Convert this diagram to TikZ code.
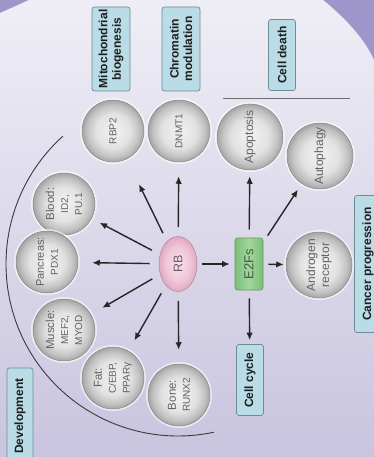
\documentclass[tikz,border=0pt]{standalone}
\usepackage{fontspec}
\setmainfont{Liberation Sans}
\usetikzlibrary{arrows.meta,shapes.geometric}
\definecolor{bgpurple}{HTML}{9E96CA}
\definecolor{bgtop}{HTML}{EFEEF6}
\definecolor{bgmid}{HTML}{E6E4F1}
\definecolor{bgbot}{HTML}{C9C4DF}
\definecolor{lblfill}{HTML}{B9DCE6}
\definecolor{lbldraw}{HTML}{6C8C98}
\definecolor{ballborder}{HTML}{8A8A8A}
\definecolor{balltext}{HTML}{626262}
\definecolor{ballA}{HTML}{F2F2F2}
\definecolor{ballB}{HTML}{E2E2E2}
\definecolor{ballC}{HTML}{C2C2C2}
\definecolor{ballD}{HTML}{A4A4A4}
\definecolor{pinkA}{HTML}{F8E2EA}
\definecolor{pinkB}{HTML}{EFC6D6}
\definecolor{pinkC}{HTML}{E2A9C0}
\definecolor{rbdraw}{HTML}{B58A9C}
\definecolor{rbtext}{HTML}{6E5A64}
\definecolor{greenA}{HTML}{A3D69E}
\definecolor{greenB}{HTML}{7DBE78}
\definecolor{e2fdraw}{HTML}{5F9A5C}
\definecolor{e2ftext}{HTML}{3F5F3F}
\definecolor{arrowcol}{HTML}{262626}
\definecolor{arccol}{HTML}{3A3A3A}
\definecolor{hlinecol}{HTML}{6E6E6E}
\pgfdeclareradialshading{ballgray}{\pgfpoint{0bp}{0bp}}{color(0bp)=(ballA); color(14bp)=(ballB); color(21bp)=(ballC); color(25bp)=(ballD); color(50bp)=(ballD)}
\pgfdeclareradialshading{pinkball}{\pgfpoint{0bp}{0bp}}{color(0bp)=(pinkA); color(16bp)=(pinkB); color(25bp)=(pinkC); color(50bp)=(pinkC)}
\newcommand\genefont{\fontsize{10}{11.5}\selectfont}
\begin{document}
\begin{tikzpicture}[x=1pt,y=1pt,
  lbl/.style={rectangle, rounded corners=2.5pt, draw=lbldraw, fill=lblfill, line width=0.7pt,
    font=\bfseries\fontsize{12}{13.5}\selectfont, text=black!88, rotate=90, align=center, inner sep=1pt},
  ball/.style={circle, shade, shading=ballgray, draw=ballborder, line width=0.5pt,
    preaction={draw=white, line width=4pt, opacity=0.6},
    minimum size=62pt, inner sep=0pt, rotate=90, align=center, text=balltext,
    font=\fontsize{11.5}{14}\selectfont},
  arr/.style={-{Latex[length=7.5pt,width=6.5pt]}, line width=1.4pt, draw=arrowcol}]
\useasboundingbox (0,0) rectangle (374,-457);
\begin{scope}
\clip (0,0) rectangle (374,-457);
% background
\fill[bgpurple] (0,0) rectangle (374,-457);
\shade[top color=bgtop, middle color=bgmid, bottom color=bgbot]
  (0,-13) -- (29,0) -- (323,0) .. controls (345,-18) and (364,-38) .. (374,-60)
  -- (374,-457) -- (0,-457) -- cycle;
% labels
\node[lbl, minimum width=84pt, minimum height=38pt] (mito) at (111,-49) {Mitochondrial\\biogenesis};
\node[lbl, minimum width=84pt, minimum height=38pt] (chrom) at (181,-49) {Chromatin\\modulation};
\node[lbl, minimum width=71pt, minimum height=27pt] (death) at (282,-55) {Cell death};
\node[lbl, minimum width=71pt, minimum height=27pt] (cycle) at (250,-380) {Cell cycle};
\node[lbl, minimum width=137pt, minimum height=27pt] (cancer) at (368,-264) {Cancer progression};
\node[lbl, minimum width=96pt, minimum height=26pt] (dev) at (20,-416) {Development};
% centre nodes
\node[ellipse, minimum width=55pt, minimum height=38pt, rotate=90, shade, shading=pinkball,
  draw=rbdraw, line width=0.6pt, text=rbtext, font=\fontsize{12.5}{14}\selectfont] (RB) at (178,-264) {RB};
\node[rectangle, rounded corners=2.5pt, minimum width=52pt, minimum height=28pt, rotate=90,
  left color=greenB, right color=greenB, middle color=greenA, draw=e2fdraw, line width=0.6pt,
  text=e2ftext, font=\fontsize{13}{14}\selectfont] (E2F) at (249,-264) {E2Fs};
% balls
\node[ball] (rbp2) at (113,-131) {\genefont RBP2};
\node[ball] (dnmt1) at (179,-131) {\genefont DNMT1};
\node[ball] (blood) at (64,-204) {Blood:\\\genefont ID2,\\\genefont PU.1};
\node[ball, font=\fontsize{11}{14}\selectfont] (panc) at (47,-262) {Pancreas:\\\genefont PDX1};
\node[ball] (muscle) at (64,-330) {Muscle:\\\genefont MEF2,\\\genefont MYOD};
\node[ball] (fat) at (113,-378) {Fat:\\\genefont C/EBP,\\\genefont PPARγ};
\node[ball] (bone) at (179,-395) {Bone:\\\genefont RUNX2};
\node[ball, minimum size=66pt, font=\fontsize{12}{14}\selectfont] (apop) at (250,-137) {Apoptosis};
\node[ball, minimum size=66pt, font=\fontsize{12}{14}\selectfont] (autoph) at (320,-156) {Autophagy};
\node[ball, minimum size=66pt, font=\fontsize{12}{14}\selectfont] (andr) at (319,-265) {Androgen\\receptor};
% separator line and arc
\coordinate (hlA) at (223,-99);
\coordinate (hlB) at (350,-99);
\draw[hlinecol, line width=1pt] (hlA) -- (hlB);
\draw[arccol, line width=0.9pt] (RB.center) ++(132:172) arc[start angle=132, end angle=282, radius=172];
% arrows
\draw[arr, shorten <=9pt, shorten >=28pt] (RB) -- (rbp2);
\draw[arr, shorten <=9pt, shorten >=14pt] (RB) -- (dnmt1);
\draw[arr, shorten <=9pt, shorten >=9pt] (RB) -- (blood);
\draw[arr, shorten <=9pt, shorten >=14pt] (RB) -- (panc);
\draw[arr, shorten <=9pt, shorten >=13pt] (RB) -- (muscle);
\draw[arr, shorten <=9pt, shorten >=12pt] (RB) -- (fat);
\draw[arr, shorten <=9pt, shorten >=14pt] (RB) -- (bone);
\draw[arr, shorten <=5pt, shorten >=5pt] (RB) -- (E2F);
\draw[arr, shorten <=8pt, shorten >=6pt] (E2F) -- (apop);
\draw[arr, shorten <=8pt, shorten >=7pt] (E2F) -- (autoph);
\draw[arr, shorten <=5pt, shorten >=2pt] (E2F) -- (andr);
\draw[arr, shorten <=8pt, shorten >=4pt] (E2F) -- (cycle);
\end{scope}
\end{tikzpicture}
\end{document}
